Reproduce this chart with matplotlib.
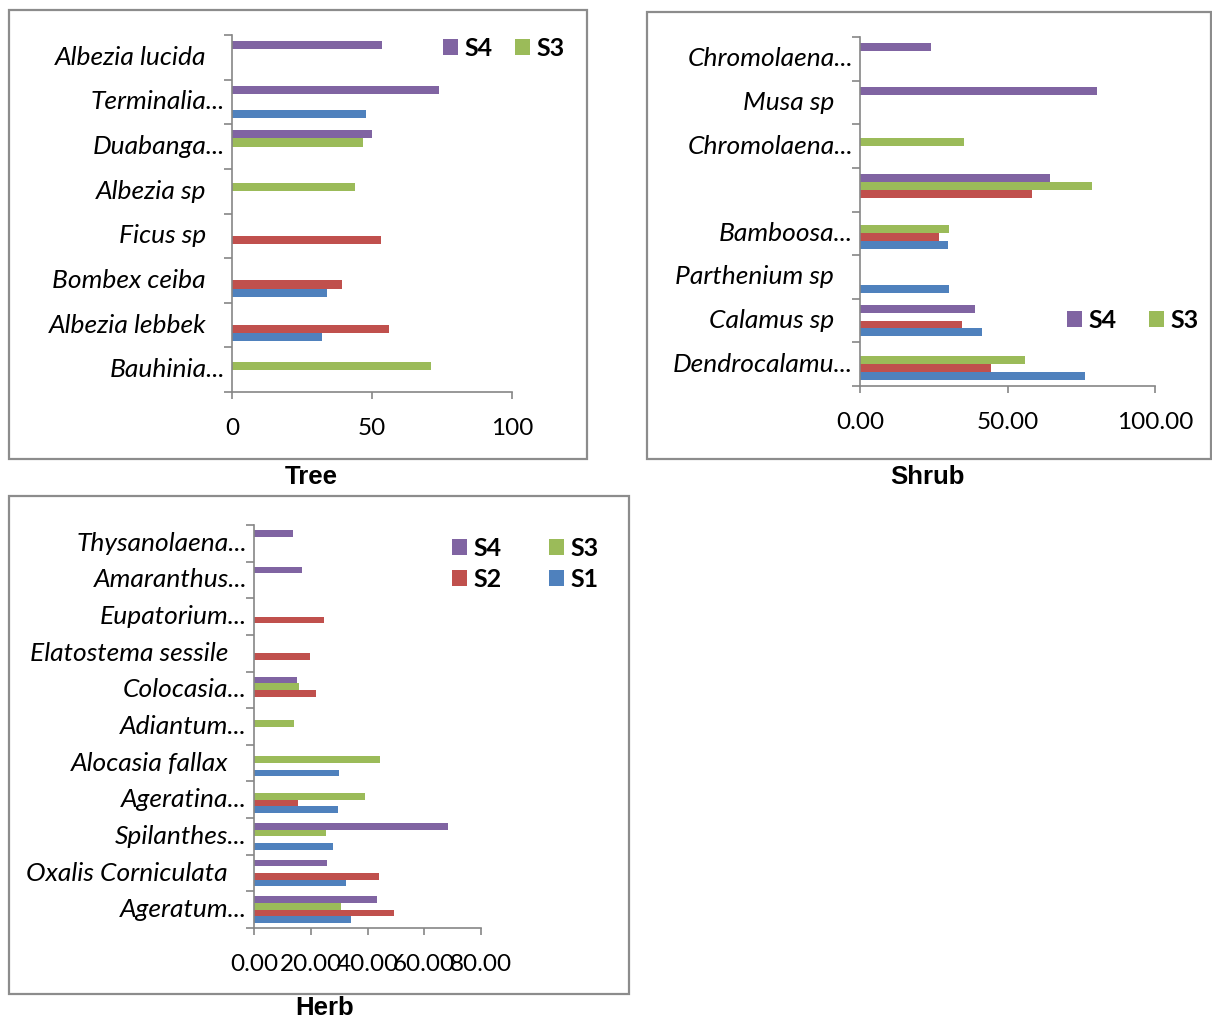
import numpy as np
import matplotlib
matplotlib.use("Agg")
import matplotlib.pyplot as plt
from matplotlib.patches import Rectangle
from matplotlib.transforms import blended_transform_factory, ScaledTranslation

plt.rcParams['font.family'] = ['Lato', 'DejaVu Sans']

series_names = ["S1", "S2", "S3", "S4"]
series_colors = ["#4F81BD", "#C0504D", "#9BBB59", "#8064A2"]

# ---- Tree (categories bottom -> top) ----
tree_cats = ["Bauhinia...", "Albezia lebbek", "Bombex ceiba", "Ficus sp",
             "Albezia sp", "Duabanga...", "Terminalia...", "Albezia lucida"]
tree_s1 = [None, 32.1, 33.9, None, None, None, 48.0, None]
tree_s2 = [None, 55.9, 39.3, 53.2, None, None, None, None]
tree_s3 = [70.9, None, None, None, 43.9, 46.7, None, None]
tree_s4 = [None, None, None, None, None, 49.9, 74.1, 53.6]
tree_ticks = [0, 50, 100]
tree_ticklabels = ["0", "50", "100"]

# ---- Shrub ----
shrub_cats = ["Dendrocalamu...", "Calamus sp", "Parthenium sp", "Bamboosa...",
              "", "Chromolaena...", "Musa sp", "Chromolaena..."]
shrub_s1 = [76.4, 41.4, 30.2, 29.8, None, None, None, None]
shrub_s2 = [44.5, 34.6, None, 26.7, 58.4, None, None, None]
shrub_s3 = [55.9, None, None, 30.2, 78.5, 35.1, None, None]
shrub_s4 = [None, 38.9, None, None, 64.5, None, 80.2, 24.2]
shrub_ticks = [0, 50, 100]
shrub_ticklabels = ["0.00", "50.00", "100.00"]

# ---- Herb ----
herb_cats = ["Ageratum...", "Oxalis Corniculata", "Spilanthes...", "Ageratina...",
             "Alocasia fallax", "Adiantum...", "Colocasia...", "Elatostema sessile",
             "Eupatorium...", "Amaranthus...", "Thysanolaena..."]
herb_s1 = [34.1, 32.3, 27.7, 29.5, 29.9, None, None, None, None, None, None]
herb_s2 = [49.5, 44.1, None, 15.4, None, None, 21.8, 19.6, 24.6, None, None]
herb_s3 = [30.5, None, 25.5, 39.0, 44.5, 14.0, 15.8, None, None, None, None]
herb_s4 = [43.2, 25.9, 68.5, None, None, None, 15.0, None, None, 16.8, 13.7]
herb_ticks = [0, 20, 40, 60, 80]
herb_ticklabels = ["0.00", "20.00", "40.00", "60.00", "80.00"]

W, H = 1212, 1019
fig = plt.figure(figsize=(W / 100, H / 100), dpi=100)
AXIS_COLOR = "#868686"
LABEL_SIZE = 19
TICK_SIZE = 17.5


def px_rect(x0, y0, x1, y1):
    return [x0 / W, 1 - y1 / H, (x1 - x0) / W, (y1 - y0) / H]


def draw_panel(rect, cats, series, ticks, ticklabels, xmax):
    ax = fig.add_axes(px_rect(*rect))
    n = len(cats)
    w = 1 / 5.5
    offsets = [-1.5 * w, -0.5 * w, 0.5 * w, 1.5 * w]
    handles = []
    for vals, off, col, name in zip(series, offsets, series_colors, series_names):
        idx = [i for i, v in enumerate(vals) if v is not None]
        v = [vals[i] for i in idx]
        b = ax.barh(np.array(idx) + off, v, height=w, color=col, linewidth=0, label=name)
        handles.append(b)
    ax.set_xlim(0, xmax)
    ax.set_ylim(-0.5, n - 0.5)
    for s in ["top", "right"]:
        ax.spines[s].set_visible(False)
    for s in ["left", "bottom"]:
        ax.spines[s].set_color(AXIS_COLOR)
        ax.spines[s].set_linewidth(1.2)
    ax.set_xticks(ticks)
    ax.set_xticklabels(ticklabels, fontsize=TICK_SIZE)
    ax.tick_params(axis="x", direction="out", length=5, width=1.2, color=AXIS_COLOR, pad=14)
    ax.set_yticks(np.arange(-0.5, n, 1.0))
    ax.set_yticklabels([])
    ax.tick_params(axis="y", direction="out", length=6, width=1.2, color=AXIS_COLOR)
    tr = blended_transform_factory(ax.transAxes, ax.transData)
    for i, c in enumerate(cats):
        gap = 7 if c.endswith("...") else 26
        t = tr + ScaledTranslation(-gap / 100, 0, fig.dpi_scale_trans)
        ax.text(0, i, c, transform=t, ha="right", va="center",
                fontsize=LABEL_SIZE, style="italic", color="black")
    ax.set_facecolor("none")
    return ax, handles


def border(x0, y0, x1, y1):
    fig.patches.append(Rectangle((x0 / W, 1 - y1 / H), (x1 - x0) / W, (y1 - y0) / H,
                                 transform=fig.transFigure, fill=False,
                                 edgecolor="#8C8C8C", linewidth=1.6))


border(9, 10, 587, 459)
border(647, 12, 1211, 459)
border(9, 496, 629, 994)

ax1, h1 = draw_panel((232, 35, 512, 392), tree_cats,
                     [tree_s1, tree_s2, tree_s3, tree_s4], tree_ticks, tree_ticklabels, 100)
ax2, h2 = draw_panel((860, 37, 1155, 386), shrub_cats,
                     [shrub_s1, shrub_s2, shrub_s3, shrub_s4], shrub_ticks, shrub_ticklabels, 100)
ax3, h3 = draw_panel((254, 525, 481, 928), herb_cats,
                     [herb_s1, herb_s2, herb_s3, herb_s4], herb_ticks, herb_ticklabels, 80)

leg_kw = dict(frameon=False, handlelength=0.6, handleheight=0.6, handletextpad=0.25,
              borderpad=0, borderaxespad=0, loc="upper left",
              prop={"weight": "bold", "size": 18})
fig.legend([h1[3], h1[2]], ["S4", "S3"], ncol=2, columnspacing=0.9,
           bbox_to_anchor=(443 / W, 1 - 37 / H), **leg_kw)
fig.legend([h2[3], h2[2]], ["S4", "S3"], ncol=2, columnspacing=1.3,
           bbox_to_anchor=(1067 / W, 1 - 309 / H), **leg_kw)
fig.legend([h3[3], h3[1], h3[2], h3[0]], ["S4", "S2", "S3", "S1"], ncol=2,
           columnspacing=1.9, labelspacing=0.32,
           bbox_to_anchor=(452 / W, 1 - 537 / H), **leg_kw)

title_kw = dict(ha="center", va="baseline", fontsize=18.5, fontweight="bold",
                family=["Liberation Sans", "DejaVu Sans"])
fig.text(311 / W, 1 - 484 / H, "Tree", **title_kw)
fig.text(927 / W, 1 - 484 / H, "Shrub", **title_kw)
fig.text(325 / W, 1 - 1015 / H, "Herb", **title_kw)

fig.savefig("out.png", dpi=100)
